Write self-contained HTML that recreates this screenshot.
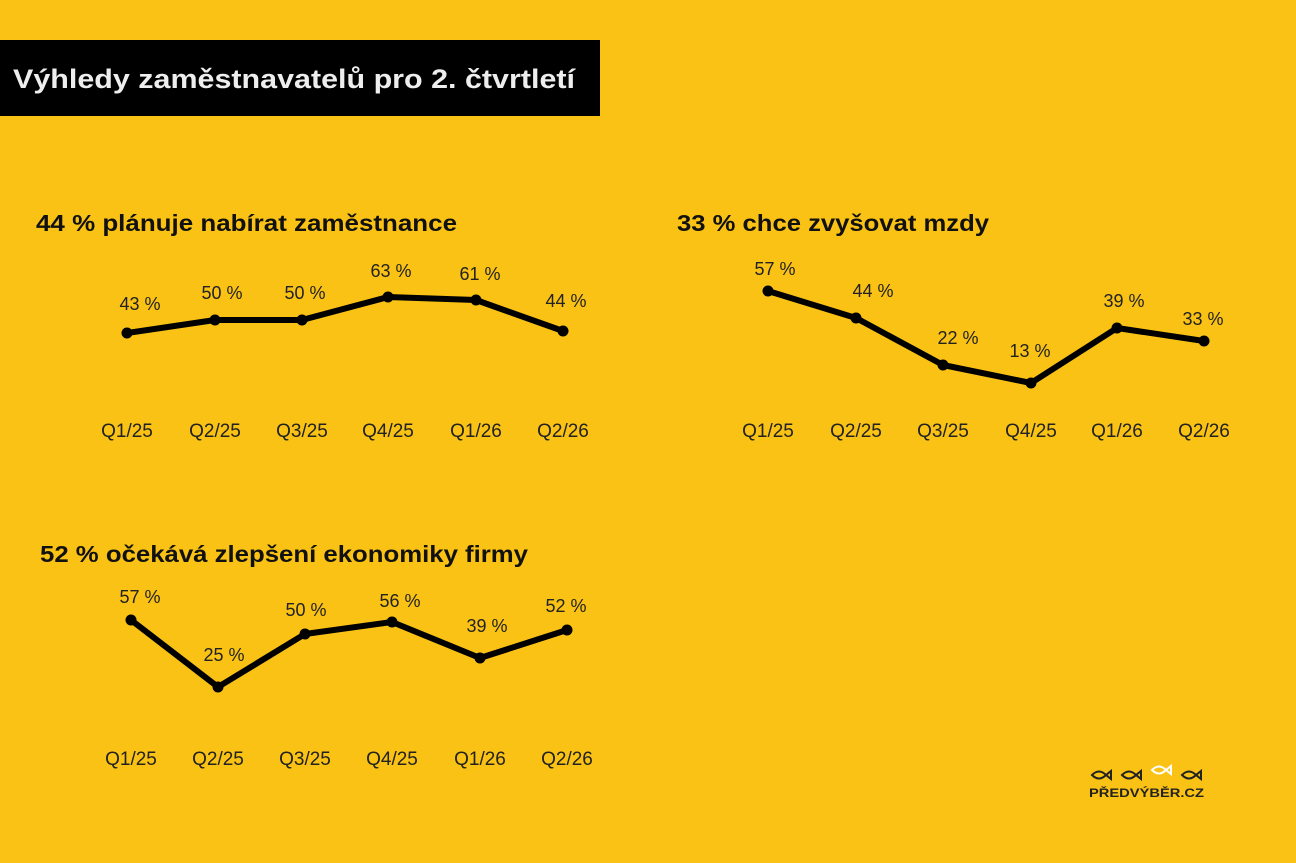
<!DOCTYPE html><html><head><meta charset="utf-8"><style>
body{margin:0;background:#FAC214;width:1296px;height:863px;overflow:hidden}
svg{display:block;font-family:"Liberation Sans",sans-serif}
</style></head><body>
<svg width="1296" height="863" viewBox="0 0 1296 863">
<rect width="1296" height="863" fill="#FAC214"/>
<rect x="0" y="40" width="600" height="76" fill="#000"/>
<text x="13" y="88" font-size="27" font-weight="bold" fill="#eee" textLength="562" lengthAdjust="spacingAndGlyphs">Výhledy zaměstnavatelů pro 2. čtvrtletí</text>
<g font-weight="bold" font-size="23" fill="#111">
<text x="36" y="231" textLength="421" lengthAdjust="spacingAndGlyphs">44 % plánuje nabírat zaměstnance</text>
<text x="677" y="231" textLength="312" lengthAdjust="spacingAndGlyphs">33 % chce zvyšovat mzdy</text>
<text x="40" y="562" textLength="488" lengthAdjust="spacingAndGlyphs">52 % očekává zlepšení ekonomiky firmy</text>
</g>
<g fill="none" stroke="#000" stroke-width="6" stroke-linejoin="round">
<polyline points="127,333 215,320 302,320 388,297 476,300 563,331"/>
<polyline points="768,291 856,318 943,365 1031,383 1117,328 1204,341"/>
<polyline points="131,620 218,687 305,634 392,622 480,658 567,630"/>
</g>
<g fill="#000">
<circle cx="127" cy="333" r="5.5"/><circle cx="215" cy="320" r="5.5"/><circle cx="302" cy="320" r="5.5"/><circle cx="388" cy="297" r="5.5"/><circle cx="476" cy="300" r="5.5"/><circle cx="563" cy="331" r="5.5"/>
<circle cx="768" cy="291" r="5.5"/><circle cx="856" cy="318" r="5.5"/><circle cx="943" cy="365" r="5.5"/><circle cx="1031" cy="383" r="5.5"/><circle cx="1117" cy="328" r="5.5"/><circle cx="1204" cy="341" r="5.5"/>
<circle cx="131" cy="620" r="5.5"/><circle cx="218" cy="687" r="5.5"/><circle cx="305" cy="634" r="5.5"/><circle cx="392" cy="622" r="5.5"/><circle cx="480" cy="658" r="5.5"/><circle cx="567" cy="630" r="5.5"/>
</g>
<g font-size="18" fill="#222" text-anchor="middle">
<text x="140" y="310">43 %</text><text x="222" y="299">50 %</text><text x="305" y="299">50 %</text><text x="391" y="277">63 %</text><text x="480" y="280">61 %</text><text x="566" y="307">44 %</text>
<text x="775" y="275">57 %</text><text x="873" y="297">44 %</text><text x="958" y="344">22 %</text><text x="1030" y="357">13 %</text><text x="1124" y="307">39 %</text><text x="1203" y="325">33 %</text>
<text x="140" y="603">57 %</text><text x="224" y="661">25 %</text><text x="306" y="616">50 %</text><text x="400" y="607">56 %</text><text x="487" y="632">39 %</text><text x="566" y="612">52 %</text>
</g>
<g font-size="19" fill="#222" text-anchor="middle">
<text x="127" y="437">Q1/25</text><text x="215" y="437">Q2/25</text><text x="302" y="437">Q3/25</text><text x="388" y="437">Q4/25</text><text x="476" y="437">Q1/26</text><text x="563" y="437">Q2/26</text>
<text x="768" y="437">Q1/25</text><text x="856" y="437">Q2/25</text><text x="943" y="437">Q3/25</text><text x="1031" y="437">Q4/25</text><text x="1117" y="437">Q1/26</text><text x="1204" y="437">Q2/26</text>
<text x="131" y="765">Q1/25</text><text x="218" y="765">Q2/25</text><text x="305" y="765">Q3/25</text><text x="392" y="765">Q4/25</text><text x="480" y="765">Q1/26</text><text x="567" y="765">Q2/26</text>
</g>
<g fill="none" stroke-width="2">
<path d="M1092 775 q7-7 14 0 l5-4 v8 l-5-4 q-7 7-14 0z" stroke="#222"/>
<path d="M1122 775 q7-7 14 0 l5-4 v8 l-5-4 q-7 7-14 0z" stroke="#222"/>
<path d="M1152 770 q7-7 14 0 l5-4 v8 l-5-4 q-7 7-14 0z" stroke="#fff"/>
<path d="M1182 775 q7-7 14 0 l5-4 v8 l-5-4 q-7 7-14 0z" stroke="#222"/>
</g>
<text x="1089" y="797" font-size="12" font-weight="bold" fill="#222" textLength="115" lengthAdjust="spacingAndGlyphs">PŘEDVÝBĚR.CZ</text>
</svg>
</body></html>
